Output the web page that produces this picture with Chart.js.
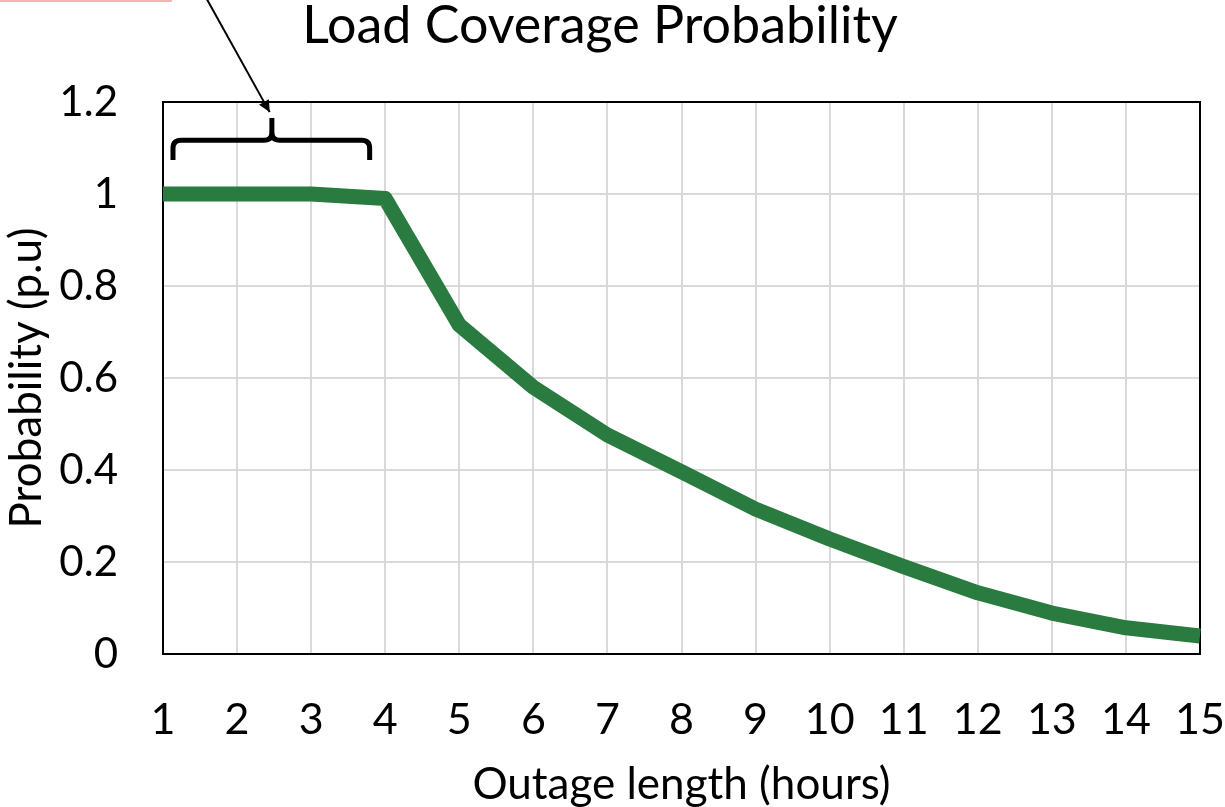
<!DOCTYPE html>
<html lang="en">
<head>
  <meta charset="UTF-8">
  <title>Load Coverage Probability</title>
  <script src="https://cdn.jsdelivr.net/npm/chart.js"></script>
  <style>
    html, body {
      margin: 0;
      padding: 0;
      background: #fff;
    }
    #wrap {
      width: 1225px;
      height: 807px;
    }
  </style>
</head>
<body>
  <div id="wrap"><canvas id="lineChart"></canvas></div>

  <script>
    // data
    const hours = [1, 2, 3, 4, 5, 6, 7, 8, 9, 10, 11, 12, 13, 14, 15];
    const probability = [1.0, 1.0, 1.0, 0.99, 0.715, 0.58, 0.476, 0.396, 0.315, 0.25, 0.19, 0.133, 0.089, 0.057, 0.039];
    const yTicks = [0, 0.2, 0.4, 0.6, 0.8, 1, 1.2];

    // annotation in data units: brace over hours 1-4, arrow from above
    const brace = { x1: 1.135, x2: 3.79, xMid: 2.47, yTop: 1.117, yEnd: 1.074, yPeak: 1.165 };
    const arrow = { fromX: 1.57, fromY: 1.43, toX: 2.44, toY: 1.178 };

    const FONT = 'Lato, "Open Sans", sans-serif';

    // black box round the plot area
    const frame = {
      id: 'frame',
      beforeDatasetsDraw(chart) {
        const { ctx, chartArea: a } = chart;
        ctx.save();
        ctx.strokeStyle = '#000';
        ctx.lineWidth = 2;
        ctx.strokeRect(a.left, a.top, a.right - a.left, a.bottom - a.top);
        ctx.restore();
      }
    };

    const notes = {
      id: 'notes',
      afterDatasetsDraw(chart) {
        const { ctx, scales } = chart;
        const px = v => scales.x.getPixelForValue(v - 1);
        const py = v => scales.y.getPixelForValue(v);
        ctx.save();
        ctx.strokeStyle = '#000';
        ctx.fillStyle = '#000';

        // curly brace
        const l = px(brace.x1), r = px(brace.x2), m = px(brace.xMid);
        const t = py(brace.yTop), e = py(brace.yEnd), p = py(brace.yPeak);
        ctx.lineWidth = 5;
        ctx.lineJoin = 'round';
        ctx.beginPath();
        ctx.moveTo(l, e);
        ctx.lineTo(l, t + 8);
        ctx.quadraticCurveTo(l, t, l + 8, t);
        ctx.lineTo(m - 8, t);
        ctx.quadraticCurveTo(m, t, m, t - 8);
        ctx.lineTo(m, p);
        ctx.moveTo(m, t - 8);
        ctx.quadraticCurveTo(m, t, m + 8, t);
        ctx.lineTo(r - 8, t);
        ctx.quadraticCurveTo(r, t, r, t + 8);
        ctx.lineTo(r, e);
        ctx.stroke();

        // arrow
        const x0 = px(arrow.fromX), y0 = py(arrow.fromY);
        const x1 = px(arrow.toX), y1 = py(arrow.toY);
        ctx.lineWidth = 2;
        ctx.beginPath();
        ctx.moveTo(x0, y0);
        ctx.lineTo(x1, y1);
        ctx.stroke();
        const ang = Math.atan2(y1 - y0, x1 - x0);
        ctx.beginPath();
        ctx.moveTo(x1, y1);
        ctx.lineTo(x1 - 13 * Math.cos(ang - 0.45), y1 - 13 * Math.sin(ang - 0.45));
        ctx.lineTo(x1 - 13 * Math.cos(ang + 0.45), y1 - 13 * Math.sin(ang + 0.45));
        ctx.closePath();
        ctx.fill();

        // edge of the pink callout box cut off at the top
        ctx.strokeStyle = '#f2b3b3';
        ctx.lineWidth = 2;
        ctx.beginPath();
        ctx.moveTo(0, 1);
        ctx.lineTo(px(1.12), 1);
        ctx.stroke();
        ctx.restore();
      }
    };

    const ctx = document.getElementById('lineChart').getContext('2d');
    new Chart(ctx, {
      type: 'line',
      data: {
        labels: hours,
        datasets: [{
          label: 'Probability',
          data: probability,
          borderColor: '#2a7b3f',
          borderWidth: 15,
          borderCapStyle: 'butt',
          borderJoinStyle: 'round',
          pointRadius: 0,
          tension: 0,
          fill: false
        }]
      },
      options: {
        responsive: true,
        maintainAspectRatio: false,
        animation: false,
        layout: {
          padding: { top: 0, right: 25, bottom: 0, left: 0 }
        },
        plugins: {
          legend: { display: false },
          tooltip: { enabled: false },
          title: {
            display: true,
            text: 'Load Coverage Probability',
            color: '#000',
            font: { family: FONT, size: 52, weight: 'normal', lineHeight: 1.0 },
            padding: { top: 0, bottom: 50 }
          }
        },
        scales: {
          x: {
            grid: { color: '#d9d9d9', lineWidth: 2, drawTicks: false },
            border: { display: false },
            afterFit(axis) {
              axis.height = 153;
              axis.paddingLeft = 0;
              axis.paddingRight = 0;
            },
            ticks: {
              color: '#000',
              padding: 40,
              maxRotation: 0,
              font: { family: FONT, size: 43 }
            },
            title: {
              display: true,
              text: 'Outage length (hours)',
              color: '#000',
              font: { family: FONT, size: 44, lineHeight: 1.0 },
              padding: { top: 0, bottom: 0 }
            }
          },
          y: {
            min: 0,
            max: 1.2,
            grid: { color: '#d9d9d9', lineWidth: 2, drawTicks: false },
            border: { display: false },
            afterBuildTicks(axis) {
              axis.ticks = yTicks.map(v => ({ value: v }));
            },
            afterFit(axis) {
              axis.width = 163;
              axis.paddingTop = 0;
              axis.paddingBottom = 0;
            },
            ticks: {
              color: '#000',
              padding: 45,
              font: { family: FONT, size: 42 },
              callback: v => String(Math.round(v * 10) / 10)
            },
            title: {
              display: true,
              text: 'Probability (p.u)',
              color: '#000',
              font: { family: FONT, size: 44 },
              padding: { top: 0, bottom: 0 }
            }
          }
        }
      },
      plugins: [frame, notes]
    });
  </script>
</body>
</html>
